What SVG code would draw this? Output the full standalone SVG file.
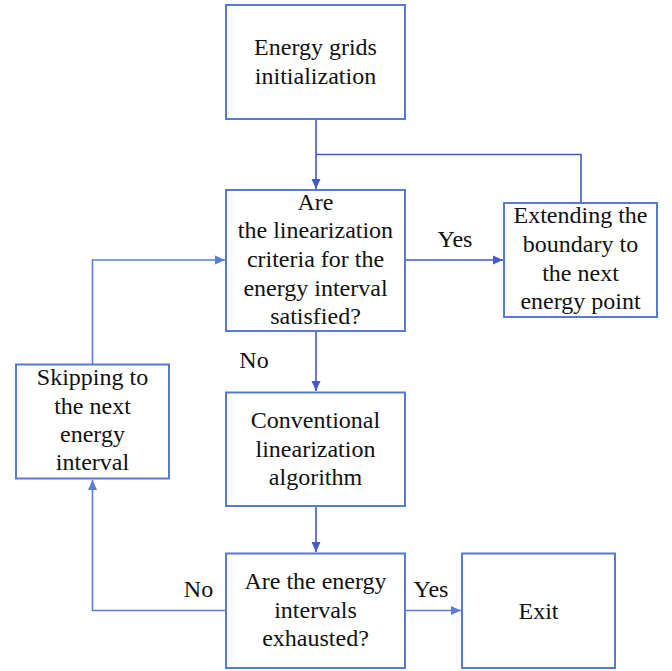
<svg xmlns="http://www.w3.org/2000/svg" width="672" height="671" viewBox="0 0 672 671" font-family="'Liberation Serif', Tinos, 'Times New Roman', serif">
<style>
.box{fill:#fff;stroke:#5679D2;stroke-width:2}
.t{font-family:'Liberation Serif',Tinos,'Times New Roman',serif;font-size:24px;fill:#111;text-anchor:middle}
.c{fill:none;stroke-width:1.6}
.d{stroke:#4658C2}
.l{stroke:#5A7ED4}
</style>
<defs>
<marker id="ad" viewBox="0 0 10 10" refX="10" refY="5" markerWidth="10" markerHeight="10" markerUnits="userSpaceOnUse" orient="auto"><path d="M0,0.5 L10,5 L0,9.5 Z" fill="#4658C2"/></marker>
<marker id="al" viewBox="0 0 10 10" refX="10" refY="5" markerWidth="10" markerHeight="10" markerUnits="userSpaceOnUse" orient="auto"><path d="M0,0.5 L10,5 L0,9.5 Z" fill="#5A7ED4"/></marker>
</defs>
<rect width="672" height="671" fill="#fff"/>
<g id="connectors">
<path class="c d" d="M316,119 V189" marker-end="url(#ad)"/>
<path class="c d" d="M316,154.5 H581 V203"/>
<path class="c d" d="M405,260 H503" marker-end="url(#ad)"/>
<path class="c d" d="M316,331 V391" marker-end="url(#ad)"/>
<path class="c d" d="M316,506 V552" marker-end="url(#ad)"/>
<path class="c l" d="M92.5,364 V260 H225" marker-end="url(#al)"/>
<path class="c l" d="M226,610.5 H92.5 V480" marker-end="url(#al)"/>
<path class="c l" d="M405,610.5 H461" marker-end="url(#al)"/>
<text class="t" x="455" y="247">Yes</text>
<text class="t" x="254" y="368">No</text>
<text class="t" x="198.5" y="597">No</text>
<text class="t" x="431" y="597">Yes</text>
</g>
<g id="n1">
<rect class="box" x="226" y="5" width="179" height="114"/>
<text class="t" x="315.5" y="55">Energy grids</text>
<text class="t" x="315.5" y="83.5">initialization</text>
</g>
<g id="n2">
<rect class="box" x="226" y="190" width="179" height="141"/>
<text class="t" x="315.5" y="209.5">Are</text>
<text class="t" x="315.5" y="238">the linearization</text>
<text class="t" x="315.5" y="267">criteria for the</text>
<text class="t" x="315.5" y="295.5">energy interval</text>
<text class="t" x="315.5" y="324">satisfied?</text>
</g>
<g id="n3">
<rect class="box" x="504" y="203" width="153" height="114"/>
<text class="t" x="580.5" y="223">Extending the</text>
<text class="t" x="580.5" y="252">boundary to</text>
<text class="t" x="580.5" y="281">the next</text>
<text class="t" x="580.5" y="309">energy point</text>
</g>
<g id="n4">
<rect class="box" x="16" y="364.5" width="153" height="114"/>
<text class="t" x="92.5" y="384.5">Skipping to</text>
<text class="t" x="92.5" y="413.5">the next</text>
<text class="t" x="92.5" y="441.5">energy</text>
<text class="t" x="92.5" y="470">interval</text>
</g>
<g id="n5">
<rect class="box" x="226" y="392.5" width="179" height="113.5"/>
<text class="t" x="315.5" y="427.5">Conventional</text>
<text class="t" x="315.5" y="456.5">linearization</text>
<text class="t" x="315.5" y="485">algorithm</text>
</g>
<g id="n6">
<rect class="box" x="226" y="553.5" width="179" height="114.5"/>
<text class="t" x="315.5" y="589">Are the energy</text>
<text class="t" x="315.5" y="618">intervals</text>
<text class="t" x="315.5" y="646">exhausted?</text>
</g>
<g id="n7">
<rect class="box" x="462" y="553.5" width="153" height="114.5"/>
<text class="t" x="538.5" y="618.5">Exit</text>
</g>
</svg>
